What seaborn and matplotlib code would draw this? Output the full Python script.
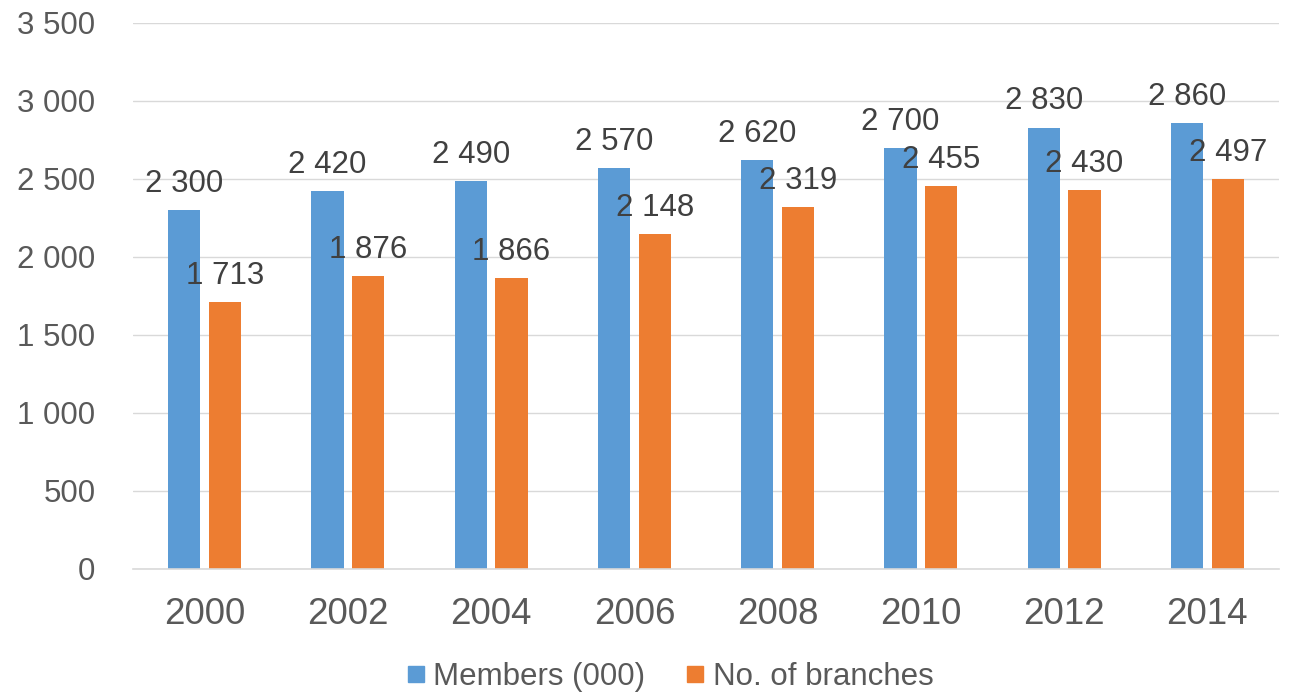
import matplotlib
matplotlib.use("Agg")
import matplotlib.pyplot as plt
from matplotlib.lines import Line2D
import pandas as pd
import seaborn as sns

# Data
years = ["2000", "2002", "2004", "2006", "2008", "2010", "2012", "2014"]
members = [2300, 2420, 2490, 2570, 2620, 2700, 2830, 2860]
branches = [1713, 1876, 1866, 2148, 2319, 2455, 2430, 2497]
series_names = ["Members (000)", "No. of branches"]
y_ticks = [0, 500, 1000, 1500, 2000, 2500, 3000, 3500]

colors = ["#5B9BD5", "#ED7D31"]
tick_color = "#595959"
label_color = "#404040"
grid_color = "#D9D9D9"


def fmt(v):
    return f"{v:,}".replace(",", " ")


df = pd.DataFrame({
    "year": years * 2,
    "value": members + branches,
    "series": [series_names[0]] * len(years) + [series_names[1]] * len(years),
})

sns.set_theme(style="white")
plt.rcParams["font.family"] = ["Liberation Sans", "DejaVu Sans"]

fig = plt.figure(figsize=(12.93, 6.92), dpi=100)
ax = fig.add_axes([133 / 1293, 1 - 569 / 692, 1146 / 1293, 546 / 692])

sns.barplot(
    data=df, x="year", y="value", hue="series", order=years,
    hue_order=series_names, palette=colors, saturation=1, width=0.569, gap=0.205,
    linewidth=0, legend=False, ax=ax,
)

# Value labels above each bar
for container, vals in zip(ax.containers, [members, branches]):
    for bar, v in zip(container, vals):
        ax.annotate(
            fmt(v), (bar.get_x() + bar.get_width() / 2, v),
            xytext=(0, 13), textcoords="offset points",
            ha="center", va="baseline", fontsize=22.5, color=label_color,
        )

ax.set_ylim(0, 3500)
ax.set_xlim(-0.5, len(years) - 0.5)
ax.set_yticks(y_ticks)
ax.set_yticklabels([fmt(t) for t in y_ticks])
ax.set_xlabel("")
ax.set_ylabel("")
ax.yaxis.grid(True, color=grid_color, linewidth=1.0)
ax.xaxis.grid(False)
ax.set_axisbelow(True)
for side in ["top", "right", "left"]:
    ax.spines[side].set_visible(False)
ax.spines["bottom"].set_color(grid_color)
ax.spines["bottom"].set_linewidth(1.2)
ax.tick_params(axis="y", length=0, pad=27, labelsize=22.5, labelcolor=tick_color)
ax.tick_params(axis="x", length=0, pad=20, labelsize=26.5, labelcolor=tick_color)

handles = [
    Line2D([], [], marker="s", linestyle="", markersize=11.5,
           markerfacecolor=c, markeredgecolor=c)
    for c in colors
]
fig.legend(
    handles, series_names, loc="center", bbox_to_anchor=(670 / 1293, 1 - 677 / 692),
    ncol=2, frameon=False, fontsize=22.5, labelcolor=tick_color,
    handlelength=0.6, handletextpad=0.25, columnspacing=1.3, borderpad=0,
)

fig.savefig("out.png", dpi=100)
